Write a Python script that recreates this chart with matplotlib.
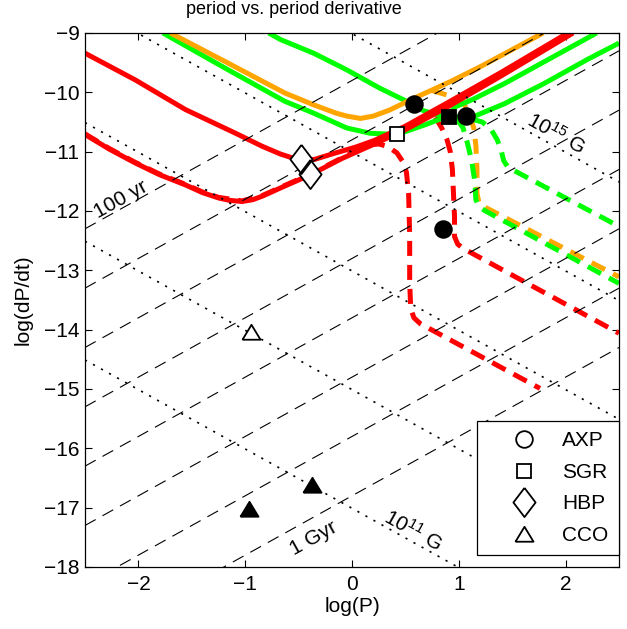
"""P-Pdot diagram: evolutionary tracks with AXP/SGR/HBP/CCO sources"""

import matplotlib
matplotlib.use("Agg")
import matplotlib.pyplot as plt
from matplotlib.lines import Line2D
import numpy as np

plt.rcParams["font.family"] = ["Liberation Sans", "DejaVu Sans"]
plt.rcParams["mathtext.fontset"] = "custom"
plt.rcParams["mathtext.rm"] = "Liberation Sans"
plt.rcParams["mathtext.it"] = "Liberation Sans:italic"
plt.rcParams["font.size"] = 15

# reference lines: characteristic age (yr) and dipole field (G)
AGES_YR = [1e2, 1e3, 1e4, 1e5, 1e6, 1e7, 1e8, 1e9]
FIELDS_G = [1e11, 1e12, 1e13, 1e14, 1e15]
YEAR_S = 3.156e7
B_CONST = 3.2e19

# evolutionary tracks, log(P) / log(dP/dt)
red_upper_x = [-2.5, -2.03, -1.56, -1.09, -0.84, -0.67, -0.55, -0.45, -0.35, -0.17, 0.04, 0.21, 0.5, 0.9, 1.4, 2.02]
red_upper_y = [-9.34, -9.79, -10.29, -10.69, -10.91, -11.04, -11.11, -11.14, -11.13, -11.03, -10.92, -10.81, -10.57, -10.17, -9.66, -9.0]

red_lower_x = [-2.5, -2.27, -2.03, -1.8, -1.56, -1.4, -1.25, -1.15, -1.03, -0.93, -0.84, -0.63, -0.39, -0.1, 0.21, 0.5, 0.9, 1.4, 2.07]
red_lower_y = [-10.71, -10.96, -11.19, -11.39, -11.56, -11.69, -11.78, -11.82, -11.84, -11.81, -11.75, -11.58, -11.39, -11.12, -10.87, -10.63, -10.24, -9.72, -9.0]

red_dash1_x = [-2.5, -2.27, -2.03, -1.8, -1.56, -1.4, -1.25, -1.03, -0.84, -0.63, -0.39, -0.1, 0.15, 0.25, 0.33, 0.42, 0.48, 0.51, 0.53, 0.54, 0.54, 0.55, 0.58, 0.64, 1.76]
red_dash1_y = [-10.70, -10.95, -11.18, -11.38, -11.55, -11.68, -11.77, -11.83, -11.74, -11.57, -11.38, -11.11, -10.89, -10.87, -10.91, -11.02, -11.18, -11.35, -11.7, -12.4, -13.2, -13.65, -13.8, -13.9, -14.99]

red_dash2_x = [0.78, 0.84, 0.89, 0.92, 0.94, 0.95, 0.96, 0.96, 0.99, 1.05, 2.5]
red_dash2_y = [-10.42, -10.6, -10.8, -11.0, -11.3, -11.7, -12.1, -12.43, -12.56, -12.64, -14.06]

orange_x = [-1.70, -1.2, -0.63, -0.36, -0.15, -0.05, 0.08, 0.2, 0.35, 0.58, 0.92, 1.21, 1.79]
orange_y = [-9.0, -9.47, -10.01, -10.21, -10.35, -10.40, -10.44, -10.40, -10.3, -10.1, -9.82, -9.56, -9.0]

orange_dash_x = [0.75, 0.88, 0.98, 1.05, 1.10, 1.14, 1.16, 1.17, 1.17, 1.19, 1.25, 2.5]
orange_dash_y = [-9.97, -10.04, -10.1, -10.2, -10.38, -10.6, -10.9, -11.3, -11.7, -11.87, -11.94, -13.11]

green_lower_x = [-1.77, -1.2, -0.63, -0.36, -0.05, 0.17, 0.42, 0.68, 0.84, 0.91, 1.07, 1.15, 1.43, 1.8, 2.2, 2.5]
green_lower_y = [-9.0, -9.58, -10.15, -10.35, -10.60, -10.69, -10.71, -10.55, -10.44, -10.41, -10.42, -10.40, -10.19, -9.85, -9.45, -9.17]

green_upper_x = [-0.78, -0.67, -0.36, -0.05, 0.26, 0.51, 0.67, 0.84, 0.91, 0.96, 1.13, 1.43, 2.29]
green_upper_y = [-9.0, -9.11, -9.34, -9.62, -9.93, -10.15, -10.31, -10.40, -10.38, -10.25, -10.12, -9.85, -9.0]

green_dash1_x = [1.12, 1.22, 1.3, 1.36, 1.40, 1.42, 1.46, 1.53, 2.5]
green_dash1_y = [-10.45, -10.5, -10.62, -10.8, -11.0, -11.15, -11.26, -11.33, -12.26]

green_dash2_x = [0.98, 1.04, 1.08, 1.12, 1.15, 1.16, 1.19, 1.25, 2.5]
green_dash2_y = [-10.45, -10.6, -10.85, -11.15, -11.5, -11.81, -11.93, -12.0, -13.22]

# sources
axp_x = [0.58, 1.07, 0.85]
axp_y = [-10.19, -10.40, -12.31]
sgr_filled_x, sgr_filled_y = [0.91], [-10.41]
sgr_open_x, sgr_open_y = [0.42], [-10.71]
hbp_x = [-0.48, -0.39]
hbp_y = [-11.13, -11.38]
cco_open_x, cco_open_y = [-0.95], [-14.04]
cco_filled_x = [-0.96, -0.37]
cco_filled_y = [-17.03, -16.61]

RED = "#ff0000"
ORANGE = "#ffa500"
GREEN = "#00ff00"

DIAMOND = [(0, 1), (0.76, 0), (0, -1), (-0.76, 0), (0, 1)]
TRIANGLE = [(-1, -0.8), (1, -0.8), (0, 0.85), (-1, -0.8)]

XLIM = (-2.5, 2.5)
YLIM = (-18, -9)

fig = plt.figure(figsize=(6.27, 6.29), dpi=100)
ax = fig.add_axes([85 / 627, 62 / 629, 534 / 627, 534 / 629])

# constant characteristic age: tau = P / (2 Pdot)
xs = np.array(XLIM)
for age in AGES_YR:
    c = -np.log10(2 * age * YEAR_S)
    ax.plot(xs, xs + c, color="black", lw=0.8, ls=(0, (11, 7)), zorder=3)

# constant dipole field: B = 3.2e19 sqrt(P Pdot)
for b in FIELDS_G:
    c = 2 * np.log10(b / B_CONST)
    ax.plot(xs, c - xs, color="black", lw=1.2, ls=(0, (1.3, 4.2)), zorder=3)

solid = dict(lw=3.6, solid_capstyle="butt", zorder=2)
dashed = dict(lw=3.6, ls=(0, (3.0, 1.8)), zorder=1.9)

ax.plot(green_upper_x, green_upper_y, color=GREEN, **solid)
ax.plot(green_lower_x, green_lower_y, color=GREEN, **solid)
ax.plot(orange_x, orange_y, color=ORANGE, **solid)
ax.plot(red_upper_x, red_upper_y, color=RED, **solid)
ax.plot(red_lower_x, red_lower_y, color=RED, **solid)

ax.plot(red_dash1_x, red_dash1_y, color=RED, **dashed)
ax.plot(red_dash2_x, red_dash2_y, color=RED, **dashed)
ax.plot(orange_dash_x, orange_dash_y, color=ORANGE, **dashed)
ax.plot(green_dash2_x, green_dash2_y, color=GREEN, **dashed)
ax.plot(green_dash1_x, green_dash1_y, color=GREEN, **dashed)

mk = dict(ls="none", mec="black", mew=1.3)
ax.plot(axp_x, axp_y, marker="o", ms=12, mfc="black", zorder=6, **mk)
ax.plot(sgr_filled_x, sgr_filled_y, marker="s", ms=10.5, mfc="black", zorder=6, **mk)
ax.plot(sgr_open_x, sgr_open_y, marker="s", ms=9.5, mfc="white", zorder=6, **mk)
# white fill first, then outlines so the overlapping edges both show
ax.plot(hbp_x, hbp_y, marker=DIAMOND, ms=21, mfc="white", mec="none", ls="none", zorder=5)
ax.plot(hbp_x, hbp_y, marker=DIAMOND, ms=21, mfc="none", zorder=6, **mk)
ax.plot(cco_open_x, cco_open_y, marker=TRIANGLE, ms=13, mfc="white", zorder=6, **mk)
ax.plot(cco_filled_x, cco_filled_y, marker=TRIANGLE, ms=13, mfc="black", zorder=6, **mk)

ang = np.degrees(np.arctan((534 / 9) / (534 / 5)))
ax.text(-2.16, -11.81, "100 yr", rotation=ang, rotation_mode="anchor", ha="center", va="center", zorder=4)
ax.text(-0.36, -17.51, "1 Gyr", rotation=ang, rotation_mode="anchor", ha="center", va="center", zorder=4)
ax.text(1.91, -10.69, r"10$^{15}$ G", rotation=-ang, rotation_mode="anchor", ha="center", va="center", zorder=4)
ax.text(0.57, -17.38, r"10$^{11}$ G", rotation=-ang, rotation_mode="anchor", ha="center", va="center", zorder=4)

ax.set_xlim(*XLIM)
ax.set_ylim(*YLIM)
ax.set_xticks([-2, -1, 0, 1, 2])
ax.set_yticks(range(-18, -8))
ax.tick_params(direction="in", top=True, right=True, length=5, width=0.8)
ax.tick_params(axis="x", pad=6)
ax.tick_params(axis="y", pad=4)
for s in ax.spines.values():
    s.set_linewidth(0.9)
ax.set_xlabel("log(P)", labelpad=2)
ax.set_ylabel("log(dP/dt)", labelpad=8)

handles = [
    Line2D([], [], marker="o", ms=12, mfc="none", **mk),
    Line2D([], [], marker="s", ms=9.5, mfc="none", **mk),
    Line2D([], [], marker=DIAMOND, ms=21, mfc="none", **mk),
    Line2D([], [], marker=TRIANGLE, ms=13, mfc="none", **mk),
]
leg = ax.legend(handles, ["AXP", "SGR", "HBP", "CCO"], loc="lower right",
                bbox_to_anchor=(1.0, 0.022), borderaxespad=0, fancybox=False,
                framealpha=1, edgecolor="black", handlelength=3.5,
                handletextpad=0.08, borderpad=0.5, labelspacing=0.6)
leg.get_frame().set_linewidth(0.9)
leg.set_zorder(10)

fig.text(294 / 627, 1 - 10 / 629, "period vs. period derivative", ha="center", va="center", fontsize=13)

fig.savefig("out.png", dpi=100)
